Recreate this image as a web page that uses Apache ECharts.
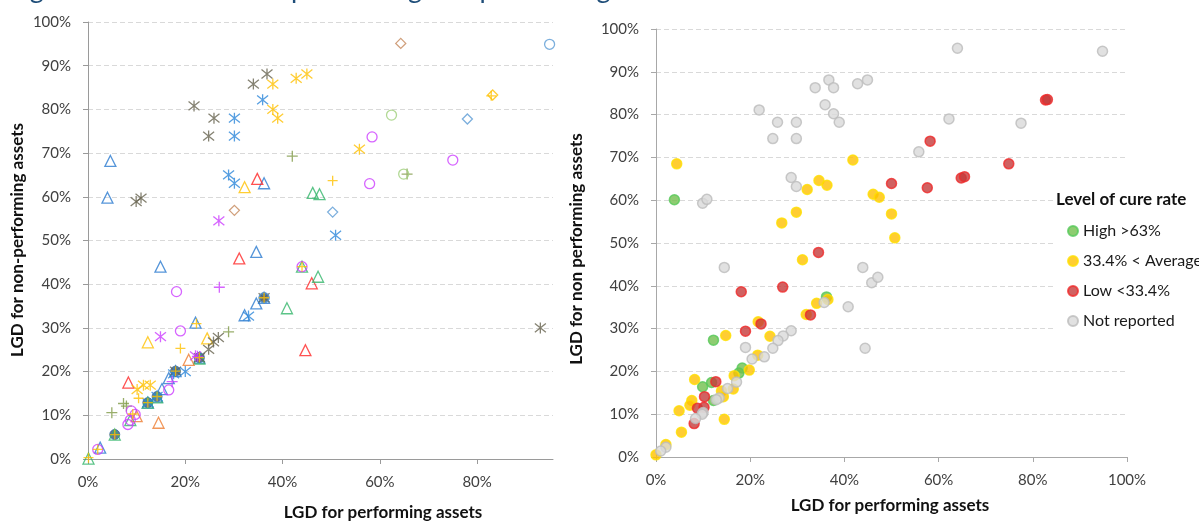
<!DOCTYPE html>
<html>
<head>
<meta charset="utf-8">
<script src="https://cdn.jsdelivr.net/npm/echarts@6/dist/echarts.min.js"></script>
<style>
html,body{margin:0;padding:0;background:#fff;}
#chart{width:1199px;height:521px;}
</style>
</head>
<body>
<div id="chart"></div>
<script>
// ---------- DATA ----------
const titleText = 'Figure 50: LGD for non-performing and performing assets';
const axisTitleX = 'LGD for performing assets';
const axisTitleYLeft = 'LGD for non-performing assets';
const axisTitleYRight = 'LGD for non performing assets';
const legendTitle = 'Level of cure rate';
const tickValuesX = [0, 0.2, 0.4, 0.6, 0.8];
const tickValuesXRight = [0, 0.2, 0.4, 0.6, 0.8, 1.0];

// Left chart: one array per marker group  [LGD performing, LGD non-performing]
const lNavyDot = [[0.123,0.129],[0.142,0.143],[0.180,0.201],[0.229,0.232],[0.362,0.369],[0.055,0.056]];
const lBlueTri = [[0.046,0.682],[0.040,0.598],[0.362,0.631],[0.346,0.474],[0.149,0.440],[0.346,0.356],[0.322,0.329],[0.221,0.312],[0.166,0.185],[0.152,0.160],[0.025,0.026],[0.362,0.369],[0.180,0.201],[0.142,0.143],[0.123,0.129],[0.229,0.232]];
const lRedTri = [[0.348,0.641],[0.311,0.459],[0.460,0.402],[0.447,0.249],[0.083,0.175]];
const lGreenTri = [[0.462,0.609],[0.476,0.606],[0.409,0.345],[0.473,0.417],[0.440,0.440],[0.055,0.056],[0.087,0.089],[0.001,0.001],[0.229,0.230],[0.142,0.141],[0.123,0.129]];
const lYellowTri = [[0.322,0.622],[0.123,0.267],[0.245,0.276]];
const lOrangeTri = [[0.207,0.227],[0.145,0.083],[0.100,0.098]];
const lDarkStar = [[0.099,0.589],[0.109,0.597],[0.218,0.808],[0.259,0.780],[0.248,0.739],[0.340,0.858],[0.368,0.881],[0.268,0.278],[0.258,0.268],[0.248,0.251],[0.930,0.300],[0.229,0.232],[0.180,0.201],[0.362,0.369]];
const lBlueStar = [[0.301,0.780],[0.301,0.739],[0.359,0.822],[0.289,0.650],[0.301,0.631],[0.509,0.512],[0.330,0.327],[0.200,0.200],[0.142,0.143],[0.123,0.129],[0.176,0.195]];
const lYellowStar = [[0.380,0.858],[0.380,0.800],[0.390,0.780],[0.428,0.871],[0.450,0.881],[0.558,0.709],[0.114,0.169],[0.128,0.169],[0.101,0.159]];
const lMagentaStar = [[0.269,0.545],[0.149,0.280],[0.221,0.236]];
const lOlivePlus = [[0.420,0.693],[0.656,0.652],[0.289,0.291],[0.073,0.127],[0.079,0.121],[0.049,0.106]];
const lMagentaPlus = [[0.270,0.393],[0.173,0.177],[0.225,0.235]];
const lMagentaCircle = [[0.584,0.737],[0.750,0.684],[0.579,0.630],[0.182,0.383],[0.190,0.293],[0.166,0.158],[0.089,0.110],[0.097,0.102],[0.082,0.079],[0.440,0.440],[0.020,0.022],[0.087,0.089]];
const lGreenCircle = [[0.624,0.787],[0.649,0.652]];
const lBlueCircle = [[0.949,0.949],[0.362,0.369]];
const lBrownDiamond = [[0.643,0.951],[0.301,0.569]];
const lBlueDiamond = [[0.780,0.778],[0.503,0.565]];
const lYellowDiamond = [[0.832,0.833]];
const lYellowPlus = [[0.829,0.831],[0.503,0.637],[0.223,0.310],[0.190,0.253],[0.104,0.139],[0.092,0.103],[0.055,0.056],[0.020,0.022],[0.001,0.003],[0.440,0.440],[0.362,0.369],[0.180,0.201],[0.142,0.143],[0.123,0.129],[0.229,0.232]];

// Right chart: by level of cure rate
const cureNames = ['High >63%', '33.4% < Average', 'Low <33.4%', 'Not reported'];
const cureHigh = [[0.039,0.601],[0.122,0.273],[0.362,0.374],[0.183,0.208],[0.176,0.196],[0.118,0.174],[0.099,0.164],[0.122,0.132]];
const cureAverage = [[0.044,0.685],[0.321,0.625],[0.346,0.646],[0.363,0.635],[0.418,0.694],[0.461,0.614],[0.474,0.607],[0.267,0.547],[0.298,0.572],[0.500,0.568],[0.311,0.461],[0.507,0.512],[0.365,0.368],[0.341,0.359],[0.319,0.333],[0.217,0.316],[0.148,0.284],[0.242,0.282],[0.216,0.238],[0.198,0.203],[0.166,0.190],[0.164,0.159],[0.139,0.154],[0.143,0.141],[0.082,0.181],[0.076,0.132],[0.072,0.121],[0.049,0.108],[0.145,0.088],[0.054,0.058],[0.021,0.029],[0.000,0.005]];
const cureLow = [[0.500,0.639],[0.345,0.478],[0.827,0.834],[0.831,0.835],[0.582,0.738],[0.749,0.685],[0.576,0.629],[0.648,0.652],[0.655,0.655],[0.181,0.386],[0.269,0.397],[0.328,0.332],[0.223,0.311],[0.190,0.294],[0.127,0.176],[0.103,0.141],[0.088,0.114],[0.102,0.116],[0.081,0.078]];
const cureNotReported = [[0.219,0.811],[0.258,0.782],[0.248,0.744],[0.298,0.782],[0.298,0.744],[0.338,0.863],[0.367,0.881],[0.377,0.863],[0.359,0.823],[0.377,0.802],[0.389,0.782],[0.428,0.872],[0.449,0.881],[0.099,0.593],[0.108,0.602],[0.287,0.653],[0.298,0.632],[0.640,0.955],[0.948,0.948],[0.622,0.790],[0.775,0.780],[0.558,0.713],[0.145,0.443],[0.439,0.443],[0.458,0.407],[0.471,0.420],[0.408,0.351],[0.357,0.361],[0.287,0.295],[0.270,0.283],[0.259,0.272],[0.248,0.254],[0.190,0.256],[0.444,0.254],[0.230,0.234],[0.204,0.229],[0.171,0.175],[0.152,0.160],[0.134,0.138],[0.128,0.134],[0.100,0.104],[0.098,0.100],[0.084,0.090],[0.021,0.023],[0.010,0.014]];

// ---------- STYLE / BUILD ----------
const FONT = 'Lato';
const pct = v => Math.round(v * 100) + '%';
const PLUS = 'path://M5,0L5,10M0,5L10,5';
const STAR = 'path://M5,0L5,10M1,1L9,9M1,9L9,1';

function hollow(name, data, symbol, color, size) {
  return {
    name, type: 'scatter', xAxisIndex: 0, yAxisIndex: 0, data, symbol,
    symbolSize: size || 10,
    itemStyle: { color: 'rgba(0,0,0,0)', borderColor: color, borderWidth: 1.3 },
    emphasis: { disabled: true }, silent: true
  };
}

const leftSeries = [
  { name: 'navy', type: 'scatter', xAxisIndex: 0, yAxisIndex: 0, data: lNavyDot, symbol: 'circle', symbolSize: 10,
    itemStyle: { color: '#3f5673', borderColor: '#2e6aa8', borderWidth: 1 }, silent: true },
  hollow('blueTri', lBlueTri, 'triangle', '#2b7bd0', 11),
  hollow('redTri', lRedTri, 'triangle', '#ff2525', 11),
  hollow('greenTri', lGreenTri, 'triangle', '#33b56a', 11),
  hollow('yellowTri', lYellowTri, 'triangle', '#ffc000', 11),
  hollow('orangeTri', lOrangeTri, 'triangle', '#ed7d31', 11),
  hollow('darkStar', lDarkStar, STAR, '#66634f', 11),
  hollow('blueStar', lBlueStar, STAR, '#2b86da', 11),
  hollow('yellowStar', lYellowStar, STAR, '#ffc000', 11),
  hollow('magentaStar', lMagentaStar, STAR, '#cc3dff', 11),
  hollow('olivePlus', lOlivePlus, PLUS, '#7f9a46', 11),
  hollow('magentaPlus', lMagentaPlus, PLUS, '#cc3dff', 11),
  hollow('magentaCircle', lMagentaCircle, 'circle', '#cc3dff', 10),
  hollow('greenCircle', lGreenCircle, 'circle', '#9fd07a', 10),
  hollow('blueCircle', lBlueCircle, 'circle', '#5b9bd5', 10),
  hollow('brownDiamond', lBrownDiamond, 'diamond', '#c4875a', 10),
  hollow('blueDiamond', lBlueDiamond, 'diamond', '#5b9bd5', 10),
  hollow('yellowDiamond', lYellowDiamond, 'diamond', '#ffc000', 10),
  hollow('yellowPlus', lYellowPlus, PLUS, '#ffc000', 10)
];

const cureStyles = [
  { color: '#72bf4e', borderColor: '#55c95a' },
  { color: '#ffc000', borderColor: '#ffe000' },
  { color: '#c53a3a', borderColor: '#f02a2a' },
  { color: '#d9d9d9', borderColor: '#bcbcbc' }
];
const cureData = [cureHigh, cureAverage, cureLow, cureNotReported];
const rightSeries = cureNames.map((n, i) => ({
  name: n, type: 'scatter', xAxisIndex: 1, yAxisIndex: 1, data: cureData[i],
  symbol: 'circle', symbolSize: 10,
  itemStyle: { color: cureStyles[i].color, borderColor: cureStyles[i].borderColor, borderWidth: 1.5 },
  silent: true
}));

const labelStyle = { fontFamily: FONT, fontSize: 15, color: '#404040' };

function xAxis(gridIndex, max, ticks, axisColor) {
  return {
    type: 'value', gridIndex, min: 0, max, interval: 0.2,
    axisLine: { show: true, onZero: false, lineStyle: { color: axisColor, width: 1 } },
    axisTick: { show: true, length: 5, customValues: ticks, lineStyle: { color: axisColor } },
    axisLabel: Object.assign({ formatter: pct, margin: 16, customValues: ticks }, labelStyle),
    splitLine: { show: false }
  };
}
function yAxis(gridIndex, axisColor) {
  return {
    type: 'value', gridIndex, min: 0, max: 1, interval: 0.1,
    axisLine: { show: true, onZero: false, lineStyle: { color: axisColor, width: 1 } },
    axisTick: { show: true, length: 5, lineStyle: { color: axisColor } },
    axisLabel: Object.assign({ formatter: pct, margin: 17 }, labelStyle),
    splitLine: { show: true, lineStyle: { color: '#d9d9d9', type: [5, 3], width: 1 } }
  };
}

const boldTitle = { fontFamily: FONT, fontSize: 17, fontWeight: 'bold', fill: '#111' };

const option = {
  animation: false,
  backgroundColor: '#fff',
  grid: [
    { left: 88, top: 22, width: 465, height: 437 },
    { left: 656, top: 29, width: 471, height: 428 }
  ],
  xAxis: [xAxis(0, 0.956, tickValuesX, '#9a9a9a'), xAxis(1, 1, tickValuesXRight, '#a8a8a8')],
  yAxis: [yAxis(0, '#9a9a9a'), yAxis(1, '#a8a8a8')],
  legend: {
    data: cureNames, orient: 'vertical', left: 1062, top: 218, z: 10,
    itemWidth: 10, itemHeight: 10, itemGap: 14, icon: 'circle',
    textStyle: { fontFamily: FONT, fontSize: 16, color: '#1a1a1a', lineHeight: 16 },
    selectedMode: false
  },
  graphic: [
    { type: 'rect', z: 3, shape: { x: 1053, y: 186, width: 146, height: 150 }, style: { fill: '#fff' }, silent: true },
    { type: 'text', z: 11, x: 1056, y: 200, style: Object.assign({ text: legendTitle, textAlign: 'left', textVerticalAlign: 'middle' }, boldTitle, { fontSize: 17 }) },
    { type: 'text', z: 5, x: 8, y: -11, style: { text: titleText, fontFamily: FONT, fontSize: 27, fill: '#1f4e79', textAlign: 'left', textVerticalAlign: 'middle' } },
    { type: 'text', z: 5, x: 383, y: 513, style: Object.assign({ text: axisTitleX, textAlign: 'center', textVerticalAlign: 'middle' }, boldTitle) },
    { type: 'text', z: 5, x: 890, y: 506, style: Object.assign({ text: axisTitleX, textAlign: 'center', textVerticalAlign: 'middle' }, boldTitle) },
    { type: 'text', z: 5, x: 18, y: 240, rotation: Math.PI / 2, style: Object.assign({ text: axisTitleYLeft, textAlign: 'center', textVerticalAlign: 'middle' }, boldTitle) },
    { type: 'text', z: 5, x: 577, y: 249, rotation: Math.PI / 2, style: Object.assign({ text: axisTitleYRight, textAlign: 'center', textVerticalAlign: 'middle' }, boldTitle) }
  ],
  series: leftSeries.concat(rightSeries)
};

const chart = echarts.init(document.getElementById('chart'), null, { renderer: 'canvas' });
chart.setOption(option);
</script>
</body>
</html>
